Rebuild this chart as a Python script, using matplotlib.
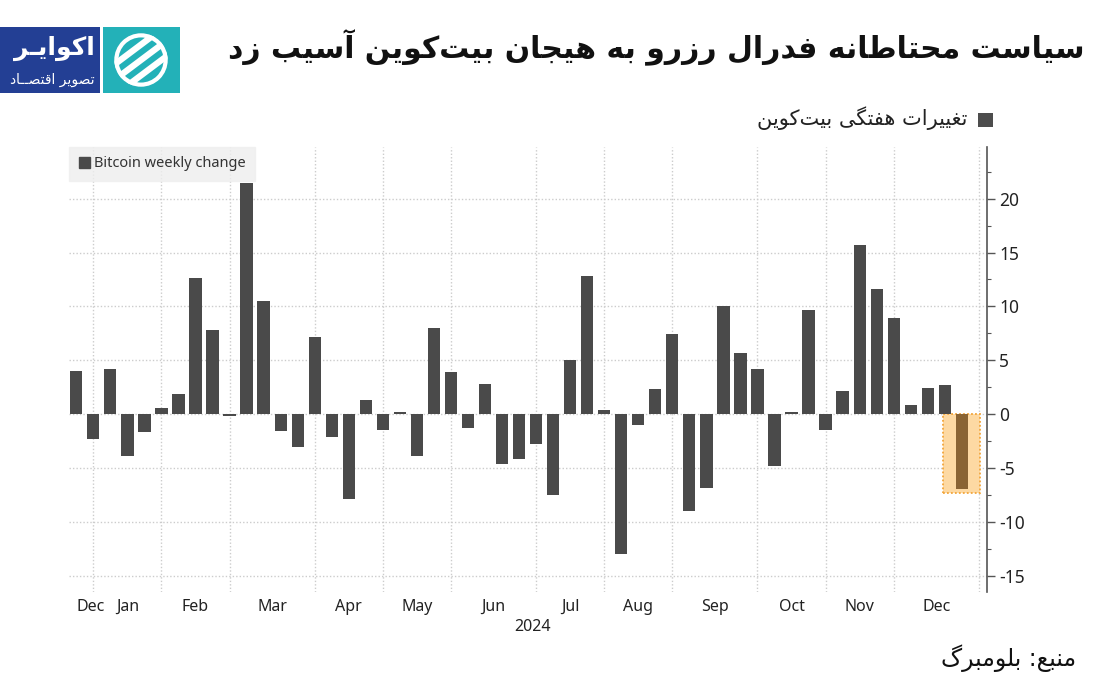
import matplotlib
matplotlib.use("Agg")
import matplotlib.pyplot as plt
import matplotlib.patches as mpatches
import numpy as np
import pandas as pd

# ---------------- data ----------------
week_start = pd.date_range("2023-12-25", periods=53, freq="7D")
weekly_change = [4.0, -2.3, 4.2, -3.9, -1.7, 0.6, 1.9, 12.6, 7.8, -0.15,
                 21.5, 10.5, -1.6, -3.1, 7.15, -2.1, -7.9, 1.3, -1.5, 0.2,
                 -3.9, 8.0, 3.9, -1.3, 2.8, -4.6, -4.15, -2.8, -7.5, 5.0,
                 12.8, 0.4, -13.0, -1.0, 2.3, 7.45, -9.0, -6.9, 10.0, 5.7,
                 4.2, -4.8, 0.2, 9.65, -1.5, 2.15, 15.7, 11.6, 8.9, 0.85,
                 2.4, 2.7, -7.0]
month_starts = pd.date_range("2024-01-01", "2025-01-01", freq="MS")
month_labels = ["Dec", "Jan", "Feb", "Mar", "Apr", "May", "Jun", "Jul",
                "Aug", "Sep", "Oct", "Nov", "Dec"]
year_label = "2024"
y_ticks = [-15, -10, -5, 0, 5, 10, 15, 20]
legend_en = "Bitcoin weekly change"
legend_fa = "تغییرات هفتگی بیت‌کوین"
title_fa = "سیاست محتاطانه فدرال رزرو به هیجان بیت‌کوین آسیب زد"
source_fa = "منبع: بلومبرگ"
logo_main = "اکوایـر"
logo_sub = "تصویر اقتصــاد"

# ---------------- minimal Persian shaping ----------------
FORMS = {
    '\u0627': ('\uFE8D', '\uFE8E', None, None),
    '\u0622': ('\uFE81', '\uFE82', None, None),
    '\u0628': ('\uFE8F', '\uFE90', '\uFE91', '\uFE92'),
    '\u067E': ('\uFB56', '\uFB57', '\uFB58', '\uFB59'),
    '\u062A': ('\uFE95', '\uFE96', '\uFE97', '\uFE98'),
    '\u062B': ('\uFE99', '\uFE9A', '\uFE9B', '\uFE9C'),
    '\u062C': ('\uFE9D', '\uFE9E', '\uFE9F', '\uFEA0'),
    '\u0686': ('\uFB7A', '\uFB7B', '\uFB7C', '\uFB7D'),
    '\u062D': ('\uFEA1', '\uFEA2', '\uFEA3', '\uFEA4'),
    '\u062E': ('\uFEA5', '\uFEA6', '\uFEA7', '\uFEA8'),
    '\u062F': ('\uFEA9', '\uFEAA', None, None),
    '\u0630': ('\uFEAB', '\uFEAC', None, None),
    '\u0631': ('\uFEAD', '\uFEAE', None, None),
    '\u0632': ('\uFEAF', '\uFEB0', None, None),
    '\u0698': ('\uFB8A', '\uFB8B', None, None),
    '\u0633': ('\uFEB1', '\uFEB2', '\uFEB3', '\uFEB4'),
    '\u0634': ('\uFEB5', '\uFEB6', '\uFEB7', '\uFEB8'),
    '\u0635': ('\uFEB9', '\uFEBA', '\uFEBB', '\uFEBC'),
    '\u0636': ('\uFEBD', '\uFEBE', '\uFEBF', '\uFEC0'),
    '\u0637': ('\uFEC1', '\uFEC2', '\uFEC3', '\uFEC4'),
    '\u0638': ('\uFEC5', '\uFEC6', '\uFEC7', '\uFEC8'),
    '\u0639': ('\uFEC9', '\uFECA', '\uFECB', '\uFECC'),
    '\u063A': ('\uFECD', '\uFECE', '\uFECF', '\uFED0'),
    '\u0641': ('\uFED1', '\uFED2', '\uFED3', '\uFED4'),
    '\u0642': ('\uFED5', '\uFED6', '\uFED7', '\uFED8'),
    '\u06A9': ('\uFB8E', '\uFB8F', '\uFB90', '\uFB91'),
    '\u06AF': ('\uFB92', '\uFB93', '\uFB94', '\uFB95'),
    '\u0644': ('\uFEDD', '\uFEDE', '\uFEDF', '\uFEE0'),
    '\u0645': ('\uFEE1', '\uFEE2', '\uFEE3', '\uFEE4'),
    '\u0646': ('\uFEE5', '\uFEE6', '\uFEE7', '\uFEE8'),
    '\u0647': ('\uFEE9', '\uFEEA', '\uFEEB', '\uFEEC'),
    '\u0648': ('\uFEED', '\uFEEE', None, None),
    '\u06CC': ('\uFBFC', '\uFBFD', '\uFBFE', '\uFBFF'),
    '\u0626': ('\uFE89', '\uFE8A', '\uFE8B', '\uFE8C'),
    '\u0640': ('\u0640', '\u0640', '\u0640', '\u0640'),
}


def shape(text):
    chars = list(text)
    n = len(chars)
    out = []
    for i, c in enumerate(chars):
        if c not in FORMS:
            if c != '\u200c':
                out.append(c)
            continue
        prev = chars[i - 1] if i > 0 else None
        nxt = chars[i + 1] if i + 1 < n else None
        jp = prev in FORMS and FORMS[prev][2] is not None
        jn = nxt in FORMS and FORMS[c][2] is not None
        iso, fin, ini, med = FORMS[c]
        if jp and jn:
            g = med
        elif jp:
            g = fin
        elif jn:
            g = ini
        else:
            g = iso
        out.append(g)
    return "".join(reversed(out))


# ---------------- figure ----------------
W, H = 1100, 700
fig = plt.figure(figsize=(11, 7), dpi=100)
fig.patch.set_facecolor("white")
FA = ["DejaVu Sans"]
EN = ["Noto Sans", "DejaVu Sans"]


def px(x, y):
    return x / W, 1 - y / H


ax = fig.add_axes([69.3 / W, 1 - 591.7 / H, (986.7 - 69.3) / W, (591.7 - 147) / H])
x = np.arange(len(weekly_change))
vals = np.array(weekly_change)
colors = ["#4a4a4a"] * len(vals)
colors[-1] = "#8a6434"

# highlight box behind the last bar
last = len(vals) - 1
ax.add_patch(mpatches.Rectangle((last - 1.08, vals[-1] - 0.3), 2.16, -(vals[-1] - 0.3),
                                facecolor="#fdd9a3", edgecolor="#f2a53a", lw=1.3,
                                linestyle=(0, (1, 1.2)), zorder=2))
ax.bar(x, vals, width=0.72, color=colors, zorder=3)

# gridlines
grid_idx = [int((m - week_start[0]).days // 7) for m in month_starts]
for g in grid_idx:
    ax.axvline(g, color="#cccccc", lw=1, linestyle=(0, (1, 1.5)), zorder=1)
for yv in y_ticks:
    ax.axhline(yv, color="#cccccc", lw=1, linestyle=(0, (1, 1.5)), zorder=1)

ax.set_xlim(-0.41, 53.46)
ax.set_ylim(-16.5, 24.8)

for s in ["left", "top", "bottom"]:
    ax.spines[s].set_visible(False)
ax.spines["right"].set_color("#555555")
ax.spines["right"].set_linewidth(1.2)

ax.yaxis.tick_right()
ax.set_yticks(y_ticks)
ax.set_yticklabels([str(v) for v in y_ticks], fontsize=12.5, color="#222222", family=EN)
ax.set_yticks(np.arange(-15, 25, 2.5), minor=True)
ax.tick_params(axis="y", which="major", length=6, width=1, color="#555555", pad=3)
ax.tick_params(axis="y", which="minor", length=3, width=0.8, color="#555555")

label_pos = [grid_idx[0] - 0.15] + [(grid_idx[i] + grid_idx[i + 1]) / 2 for i in range(len(grid_idx) - 1)]
ax.set_xticks(label_pos)
ax.set_xticklabels(month_labels, fontsize=11.5, color="#222222", family=EN)
ax.tick_params(axis="x", length=0, pad=5)
ax.text(26.8, -0.062, year_label, transform=ax.get_xaxis_transform(), ha="center", va="top",
        fontsize=11.5, color="#222222", family=EN)

# English legend box
leg = ax.legend(handles=[mpatches.Patch(color="#4a4a4a", label=legend_en)],
                loc="upper left", bbox_to_anchor=(0, 1), borderaxespad=0, frameon=True,
                fancybox=False, handlelength=0.75, handleheight=0.75, handletextpad=0.3,
                borderpad=0.65, prop={"family": EN, "size": 10.5})
leg.get_frame().set_facecolor("#eeeeee")
leg.get_frame().set_edgecolor("#eeeeee")
for t in leg.get_texts():
    t.set_color("#333333")

# Persian legend above the plot
fig.patches.append(mpatches.Rectangle(px(978, 127), 15 / W, 14 / H, transform=fig.transFigure,
                                      facecolor="#4d4d4d", edgecolor="none"))
fig.text(*px(967, 118), shape(legend_fa), ha="right", va="center", fontsize=15,
         family=FA, color="#222222")

# title
fig.text(*px(1085, 48), shape(title_fa), ha="right", va="center", fontsize=21.5,
         family=FA, fontweight="bold", color="#111111")

# source
fig.text(*px(1076, 658), shape(source_fa), ha="right", va="center", fontsize=17,
         family=FA, color="#111111")

# logo
fig.patches.append(mpatches.Rectangle(px(0, 93), 100 / W, 66 / H, transform=fig.transFigure,
                                      facecolor="#233f94", edgecolor="none"))
fig.patches.append(mpatches.Rectangle(px(103, 93), 77 / W, 66 / H, transform=fig.transFigure,
                                      facecolor="#23b1b8", edgecolor="none"))
fig.text(*px(95, 48), shape(logo_main), ha="right", va="center", fontsize=18,
         family=FA, fontweight="bold", color="white")
fig.text(*px(95, 80), shape(logo_sub), ha="right", va="center", fontsize=10,
         family=FA, color="white")
# logo icon
lax = fig.add_axes([113 / W, 1 - 88 / H, 56 / W, 56 / H], zorder=5)
lax.set_xlim(-1, 1)
lax.set_ylim(-1, 1)
lax.axis("off")
circ = mpatches.Circle((0, 0), 0.95, transform=lax.transData)
for off in [-0.55, 0.0, 0.55]:
    t = np.linspace(-1.2, 1.2, 50)
    ln, = lax.plot(t, 0.75 * t + off, color="white", lw=4.5, solid_capstyle="butt")
    ln.set_clip_path(circ)
lax.add_patch(mpatches.Circle((0, 0), 0.88, facecolor="none", edgecolor="white", lw=3))

fig.savefig("out.png", dpi=100, facecolor="white")
